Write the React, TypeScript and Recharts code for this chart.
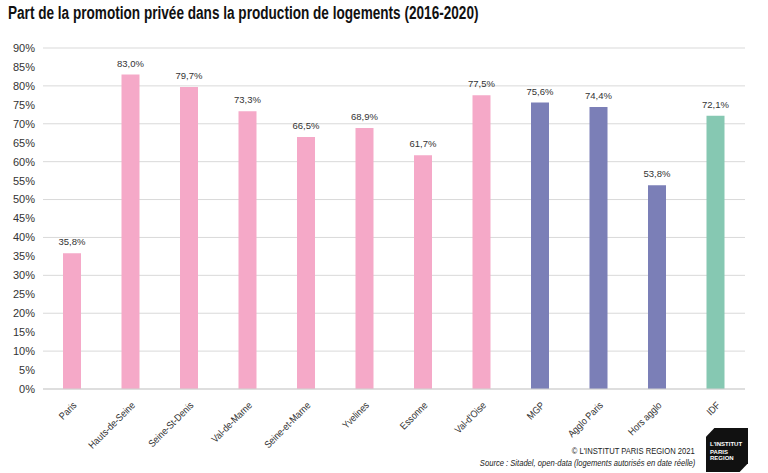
import React from "react";
import { BarChart, Bar, XAxis, YAxis, CartesianGrid, LabelList, Cell } from "recharts";

const categories = ["Paris", "Hauts-de-Seine", "Seine-St-Denis", "Val-de-Marne", "Seine-et-Marne", "Yvelines", "Essonne", "Val-d'Oise", "MGP", "Agglo Paris", "Hors agglo", "IDF"];
const values = [35.8, 83.0, 79.7, 73.3, 66.5, 68.9, 61.7, 77.5, 75.6, 74.4, 53.8, 72.1];
const groups = ["dep", "dep", "dep", "dep", "dep", "dep", "dep", "dep", "agg", "agg", "agg", "idf"];
const yTicks = [0, 5, 10, 15, 20, 25, 30, 35, 40, 45, 50, 55, 60, 65, 70, 75, 80, 85, 90];

const colors: Record<string, string> = { dep: "#F5A9C8", agg: "#7B7FB7", idf: "#86C8B2" };
const data = categories.map((c, i) => ({ name: c, value: values[i], group: groups[i] }));

const FONT = "'Liberation Sans', Arial, sans-serif";

const XTick = (props: any) => {
  const { x, y, payload } = props;
  const tx = x + 5;
  const ty = y + 9;
  return (
    <text x={tx} y={ty} textAnchor="end" fontSize={10} fill="#333" fontFamily={FONT} transform={`rotate(-45, ${tx}, ${ty}) translate(${tx} ${ty}) scale(0.88 1) translate(${-tx} ${-ty})`}>
      {payload.value}
    </text>
  );
};

export default function App() {
  return (
    <div style={{ position: "absolute", left: 0, top: 0, width: 768, height: 473, background: "#fff", fontFamily: FONT }}>
      <div style={{ position: "absolute", left: 8, top: 3, fontSize: 18, fontWeight: "bold", color: "#111", whiteSpace: "nowrap", transform: "scaleX(0.755)", transformOrigin: "0 0" }}>
        Part de la promotion privée dans la production de logements (2016-2020)
      </div>
      <BarChart width={768} height={473} data={data} margin={{ top: 48, right: 23, bottom: 4, left: 0 }} barCategoryGap={0}>
        <CartesianGrid vertical={false} stroke="#d9d9d9" />
        <XAxis dataKey="name" interval={0} tickLine={false} axisLine={{ stroke: "#d0d0d0" }} height={80} tick={<XTick />} />
        <YAxis domain={[0, 90]} ticks={yTicks} tickFormatter={(v: number) => `${v}%`} tickLine={false} axisLine={false} width={43} tick={{ fontSize: 11, fill: "#333", fontFamily: FONT }} />
        <Bar dataKey="value" barSize={18} isAnimationActive={false}>
          {data.map((d, i) => (
            <Cell key={i} fill={colors[d.group]} />
          ))}
          <LabelList dataKey="value" position="top" offset={8} formatter={(v: number) => `${v.toFixed(1).replace(".", ",")}%`} style={{ fontSize: 9.5, fill: "#333", fontFamily: FONT }} />
        </Bar>
      </BarChart>
      <div style={{ position: "absolute", right: 73, top: 445, fontSize: 9.5, color: "#222", whiteSpace: "nowrap", transform: "scaleX(0.8)", transformOrigin: "100% 0" }}>
        © L'INSTITUT PARIS REGION 2021
      </div>
      <div style={{ position: "absolute", right: 73, top: 457, fontSize: 9.5, color: "#222", whiteSpace: "nowrap", fontStyle: "italic", transform: "scaleX(0.8)", transformOrigin: "100% 0" }}>
        Source : Sitadel, open-data (logements autorisés en date réelle)
      </div>
      <div style={{ position: "absolute", left: 706, top: 428, width: 42, height: 44, background: "#111", clipPath: "polygon(20% 0, 100% 0, 100% 80%, 80% 100%, 0 100%, 0 20%)", color: "#fff", fontSize: 6, fontWeight: "bold", lineHeight: "6px", padding: "13px 0 0 4px", boxSizing: "border-box" }}>
        <div>L'INSTITUT</div>
        <div style={{ marginTop: 2 }}>PARIS</div>
        <div>REGION</div>
      </div>
    </div>
  );
}
